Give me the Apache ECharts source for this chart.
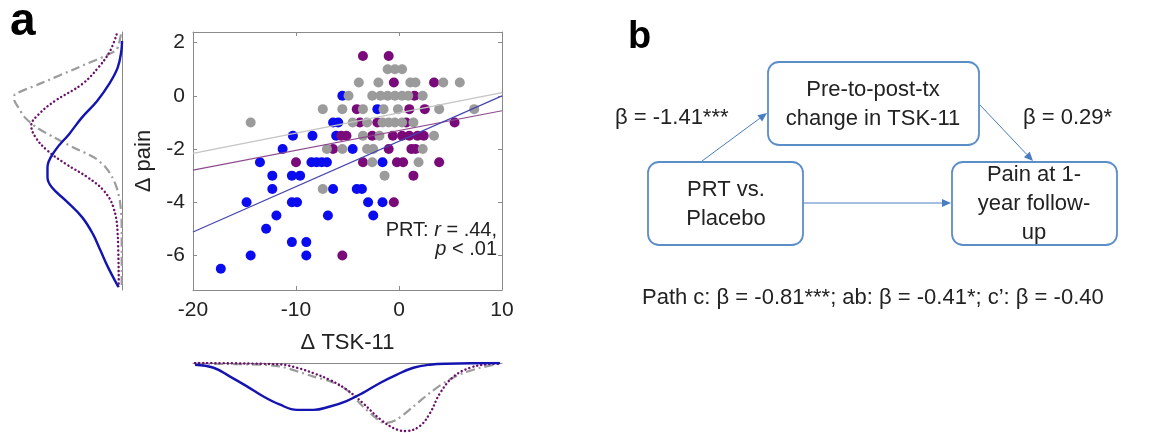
<!DOCTYPE html>
<html><head><meta charset="utf-8">
<script src="https://cdn.jsdelivr.net/npm/echarts@6/dist/echarts.min.js"></script>
<style>html,body{margin:0;padding:0;background:#fff}#c{width:1154px;height:433px}</style>
</head><body><div id="c"></div>
<script>
// ---------- data ----------
const xTicks = [-20, -10, 0, 10];
const yTicks = [-6, -4, -2, 0, 2];

// PRT (blue) points [ΔTSK-11, Δpain]
const prtPts = [
  [-5.5,0],[-2.1,-0.5],[-6.4,-1],[-5.9,-1],[-10.3,-1.5],[-8.4,-1.5],[-6.1,-1.5],
  [-11.3,-2],[-4.5,-2],[-13.5,-2.5],[-8.5,-2.5],[-8.0,-2.5],[-7.5,-2.5],[-7.0,-2.5],[-1.6,-2.5],
  [-12.3,-3],[-10.4,-3],[-9.6,-3],[-12.3,-3.5],[-6.4,-3.5],[-4.1,-3.5],[-3.6,-3.5],
  [-14.8,-4],[-10.4,-4],[-9.9,-4],[-3.0,-4],[-1.6,-4],[-11.9,-4.5],[-6.9,-4.5],[-2.5,-4.5],
  [-12.9,-5],[-10.4,-5.5],[-9.0,-5.5],[-14.4,-6],[-9.0,-6],[-17.3,-6.5]
];
// Placebo (purple) points
const placeboPts = [
  [-3.5,1.5],[-1.0,1.5],[-0.5,0.5],[3.4,0.5],[1.5,0],
  [-4.1,-0.5],[1.0,-0.5],[2.5,-0.5],[-3.8,-1],[-2.1,-1],[0.7,-1],[5.4,-1],
  [-5.6,-1.5],[-5.1,-1.5],[-2.6,-1.5],[-0.6,-1.5],[0.3,-1.5],[1.0,-1.5],[1.8,-1.5],[2.4,-1.5],
  [-6.4,-2],[-1.0,-2],[1.2,-2],[1.6,-2],
  [-10.0,-2.5],[-3.5,-2.5],[-0.2,-2.5],[0.4,-2.5],[3.9,-2.5],
  [1.4,-3],[-0.5,-4],[-5.5,-6]
];
// Usual care (gray) points
const usualPts = [
  [-1.1,1],[-0.4,1],[0.3,1],
  [-3.9,0.5],[-2.0,0.5],[1.1,0.5],[1.6,0.5],[4.3,0.5],[5.9,0.5],
  [-4.9,0],[-2.6,0],[-1.8,0],[-1.1,0],[-0.4,0],[0.3,0],[0.9,0],[2.3,0],
  [-7.4,-0.5],[-5.5,-0.5],[-3.5,-0.5],[-1.5,-0.5],[-0.1,-0.5],[3.9,-0.5],[7.3,-0.5],
  [-14.4,-1],[-4.5,-1],[-3.1,-1],[-1.6,-1],[-1.0,-1],[-0.4,-1],[0.3,-1],[1.4,-1],
  [-3.5,-1.5],[-1.9,-1.5],[3.4,-1.5],
  [-7.0,-2],[-5.5,-2],[-3.1,-2],[-2.5,-2],[2.3,-2],
  [-2.6,-2.5],[1.9,-2.5],[-1.4,-3],[-7.4,-3.5]
];
// fitted regression line end points
const fitPRT = [[-20,-5.12],[10,0.0]];
const fitPlacebo = [[-20,-2.79],[10,-0.56]];
const fitUsual = [[-20,-2.16],[10,0.12]];

// marginal densities of Δpain [density, Δpain]
const painDensPRT = [[0,2.06],[0.006,1.69],[0.04,1.06],[0.12,0.44],[0.23,-0.19],[0.37,-0.81],[0.49,-1.44],[0.62,-2.06],[0.69,-2.69],[0.69,-3.06],[0.65,-3.44],[0.52,-3.94],[0.37,-4.56],[0.27,-5.19],[0.20,-5.81],[0.13,-6.44],[0.05,-7.06],[0.03,-7.19]];
const painDensPlacebo = [[0.05,2.31],[0.11,1.69],[0.22,1.06],[0.37,0.44],[0.62,-0.19],[0.77,-0.69],[0.84,-1.12],[0.80,-1.56],[0.69,-2.06],[0.52,-2.56],[0.32,-3.06],[0.17,-3.56],[0.08,-4.19],[0.04,-5.19],[0.03,-7.19]];
const painDensUsual = [[0.01,2.31],[0.03,1.94],[0.06,1.69],[0.41,1.06],[0.77,0.44],[0.99,0.06],[1.0,-0.12],[0.96,-0.44],[0.90,-0.81],[0.79,-1.19],[0.63,-1.56],[0.45,-1.94],[0.26,-2.31],[0.15,-2.69],[0.09,-3.06],[0.05,-3.44],[0.02,-3.94],[0.005,-4.56],[0.003,-5.2],[0.003,-7.2]];
// marginal densities of ΔTSK-11 [ΔTSK-11, density]
const tskDensPRT = [[-19.8,0.025],[-18.0,0.07],[-16.4,0.20],[-14.8,0.34],[-13.2,0.49],[-11.6,0.61],[-9.9,0.69],[-8.3,0.69],[-6.7,0.64],[-5.1,0.56],[-3.5,0.44],[-1.8,0.29],[-0.2,0.17],[1.4,0.07],[3.0,0.025],[4.6,0.01],[9.8,0.0]];
const tskDensPlacebo = [[-19.8,0.0],[-11.6,0.02],[-9.9,0.07],[-8.3,0.15],[-6.7,0.25],[-5.1,0.39],[-3.5,0.59],[-1.8,0.83],[-0.2,0.98],[0.7,1.0],[2.0,0.93],[3.0,0.74],[4.0,0.44],[5.3,0.20],[6.9,0.07],[8.5,0.02],[9.8,0.01]];
const tskDensUsual = [[-19.8,0.01],[-14.8,0.02],[-11.6,0.05],[-8.3,0.20],[-6.7,0.27],[-5.1,0.39],[-3.5,0.64],[-1.8,0.86],[-1.2,0.88],[-0.2,0.83],[1.4,0.64],[3.0,0.44],[4.6,0.27],[6.2,0.15],[7.9,0.07],[9.8,0.01]];

// ---------- styling ----------
const FONT = '"Liberation Sans", Arial, Helvetica, sans-serif';
const TXT = '#222';
const AX = '#8a8a8a';
const C_BLUE = '#0b0bf0', C_PURPLE = '#7a0a7a', C_GRAY = '#9b9b9b';
const Y_MIN = -7.3, Y_MAX = 2.4;

const chart = echarts.init(document.getElementById('c'));

function arrow(x1, y1, x2, y2, color) {
  const dx = x2 - x1, dy = y2 - y1, L = Math.hypot(dx, dy);
  const ux = dx / L, uy = dy / L, px = -uy, py = ux;
  const hl = 9, hw = 4;
  const bx = x2 - ux * hl, by = y2 - uy * hl;
  return [
    {type: 'line', shape: {x1, y1, x2: bx, y2: by}, style: {stroke: color, lineWidth: 1}},
    {type: 'polygon', shape: {points: [[x2, y2], [bx + px * hw, by + py * hw], [bx - px * hw, by - py * hw]]}, style: {fill: color}}
  ];
}
function box(x, y, w, h) {
  return {type: 'rect', shape: {x, y, width: w, height: h, r: 11}, style: {fill: '#fff', stroke: '#5b8ec6', lineWidth: 1.8}};
}
function txt(x, y, s, align, size) {
  return {type: 'text', x, y, style: {text: s, fill: TXT, font: (size || 22) + 'px ' + FONT, textAlign: align || 'center', textVerticalAlign: 'middle'}};
}
const AC = '#4a7cc2';

const graphics = [
  {type: 'text', x: 10, y: 22, style: {text: 'a', fill: '#000', font: 'bold 46px "Liberation Sans", Arial, sans-serif', textAlign: 'left', textVerticalAlign: 'middle'}},
  {type: 'text', x: 628, y: 38, style: {text: 'b', fill: '#000', font: 'bold 38px "Liberation Sans", Arial, sans-serif', textAlign: 'left', textVerticalAlign: 'middle'}},
  {type: 'text', x: 497, y: 230, style: {text: '{n|PRT: }{i|r}{n| = .44,}', textAlign: 'right', textVerticalAlign: 'middle',
     rich: {n: {font: '20px ' + FONT, fill: TXT}, i: {font: 'italic 20px ' + FONT, fill: TXT}}}},
  {type: 'text', x: 497, y: 249, style: {text: '{i|p}{n| < .01}', textAlign: 'right', textVerticalAlign: 'middle',
     rich: {n: {font: '20px ' + FONT, fill: TXT}, i: {font: 'italic 20px ' + FONT, fill: TXT}}}},
  ...arrow(702, 161, 767, 113, AC),
  ...arrow(980, 105, 1033, 161, AC),
  ...arrow(803, 203, 951, 203, AC),
  box(768, 62, 211, 83),
  box(648, 162, 155, 83),
  box(952, 162, 165, 83),
  txt(873, 90, 'Pre-to-post-tx'),
  txt(873, 119, 'change in TSK-11'),
  txt(726, 190, 'PRT vs.'),
  txt(726, 219, 'Placebo'),
  txt(1034, 175, 'Pain at 1-'),
  txt(1034, 204, 'year follow-'),
  txt(1034, 233, 'up'),
  txt(615, 118, 'β = -1.41***', 'left'),
  txt(1023, 118, 'β = 0.29*', 'left'),
  txt(642, 298, 'Path c: β = -0.81***; ab: β = -0.41*; c’: β = -0.40', 'left')
];

const noAxis = {show: false};
const option = {
  animation: false,
  backgroundColor: '#fff',
  textStyle: {fontFamily: FONT},
  grid: [
    {left: 193, top: 32, width: 309, height: 258},
    {left: 10, top: 32, width: 112, height: 258},
    {left: 193, top: 363, width: 309, height: 70}
  ],
  xAxis: [
    {type: 'value', gridIndex: 0, min: -20, max: 10, interval: 10, position: 'bottom',
     axisLine: {show: true, onZero: false, lineStyle: {color: AX}},
     axisTick: {show: true, inside: true, length: 4, lineStyle: {color: AX}},
     axisLabel: {color: TXT, fontSize: 21, fontFamily: FONT, margin: 10},
     splitLine: noAxis,
     name: 'Δ TSK-11', nameLocation: 'middle', nameGap: 42,
     nameTextStyle: {color: TXT, fontSize: 22, fontFamily: FONT}},
    {type: 'value', gridIndex: 0, min: -20, max: 10, interval: 10, position: 'top',
     axisLine: {show: true, onZero: false, lineStyle: {color: AX}},
     axisTick: {show: true, inside: true, length: 4, lineStyle: {color: AX}},
     axisLabel: noAxis, splitLine: noAxis},
    {type: 'value', gridIndex: 1, min: 0, max: 1.037, inverse: true,
     axisLine: noAxis, axisTick: noAxis, axisLabel: noAxis, splitLine: noAxis},
    {type: 'value', gridIndex: 2, min: -20, max: 10, position: 'top',
     axisLine: {show: true, onZero: false, lineStyle: {color: '#888'}},
     axisTick: noAxis, axisLabel: noAxis, splitLine: noAxis}
  ],
  yAxis: [
    {type: 'value', gridIndex: 0, min: Y_MIN, max: Y_MAX, position: 'left',
     axisLine: {show: true, onZero: false, lineStyle: {color: AX}},
     axisTick: {show: true, inside: true, length: 4, customValues: yTicks, lineStyle: {color: AX}},
     axisLabel: {color: TXT, fontSize: 21, fontFamily: FONT, margin: 8, customValues: yTicks},
     splitLine: noAxis,
     name: 'Δ pain', nameLocation: 'middle', nameGap: 38, nameRotate: 90,
     nameTextStyle: {color: TXT, fontSize: 22, fontFamily: FONT}},
    {type: 'value', gridIndex: 0, min: Y_MIN, max: Y_MAX, position: 'right',
     axisLine: {show: true, onZero: false, lineStyle: {color: AX}},
     axisTick: {show: true, inside: true, length: 4, customValues: yTicks, lineStyle: {color: AX}},
     axisLabel: noAxis, splitLine: noAxis},
    {type: 'value', gridIndex: 1, min: Y_MIN, max: Y_MAX, position: 'right',
     axisLine: {show: true, onZero: false, lineStyle: {color: '#888'}},
     axisTick: noAxis, axisLabel: noAxis, splitLine: noAxis},
    {type: 'value', gridIndex: 2, min: 0, max: 1.03, inverse: true,
     axisLine: noAxis, axisTick: noAxis, axisLabel: noAxis, splitLine: noAxis}
  ],
  series: [
    {type: 'scatter', name: 'PRT', xAxisIndex: 0, yAxisIndex: 0, data: prtPts, symbolSize: 10, itemStyle: {color: C_BLUE, opacity: 1}},
    {type: 'scatter', name: 'Placebo', xAxisIndex: 0, yAxisIndex: 0, data: placeboPts, symbolSize: 10, itemStyle: {color: C_PURPLE, opacity: 1}},
    {type: 'scatter', name: 'Usual care', xAxisIndex: 0, yAxisIndex: 0, data: usualPts, symbolSize: 10, itemStyle: {color: C_GRAY, opacity: 1}},
    {type: 'line', xAxisIndex: 0, yAxisIndex: 0, data: fitUsual, symbol: 'none', lineStyle: {color: '#c4c4c4', width: 1.2}},
    {type: 'line', xAxisIndex: 0, yAxisIndex: 0, data: fitPlacebo, symbol: 'none', lineStyle: {color: '#8d4a8d', width: 1.2}},
    {type: 'line', xAxisIndex: 0, yAxisIndex: 0, data: fitPRT, symbol: 'none', lineStyle: {color: '#4545b0', width: 1.2}},

    {type: 'line', xAxisIndex: 2, yAxisIndex: 2, data: painDensUsual, symbol: 'none', smooth: 0.25,
     lineStyle: {color: '#9c9c9c', width: 2.2, type: [9, 4, 2, 4]}},
    {type: 'line', xAxisIndex: 2, yAxisIndex: 2, data: painDensPlacebo, symbol: 'none', smooth: 0.4,
     lineStyle: {color: '#6a0f6a', width: 2.4, type: [0.1, 4], cap: 'round'}},
    {type: 'line', xAxisIndex: 2, yAxisIndex: 2, data: painDensPRT, symbol: 'none', smooth: 0.4,
     lineStyle: {color: '#1414b0', width: 2.4}},

    {type: 'line', xAxisIndex: 3, yAxisIndex: 3, data: tskDensUsual, symbol: 'none', smooth: 0.3,
     lineStyle: {color: '#9c9c9c', width: 2.2, type: [9, 4, 2, 4]}},
    {type: 'line', xAxisIndex: 3, yAxisIndex: 3, data: tskDensPlacebo, symbol: 'none', smooth: 0.4,
     lineStyle: {color: '#6a0f6a', width: 2.4, type: [0.1, 4], cap: 'round'}},
    {type: 'line', xAxisIndex: 3, yAxisIndex: 3, data: tskDensPRT, symbol: 'none', smooth: 0.4,
     lineStyle: {color: '#1414b0', width: 2.4}}
  ],
  graphic: graphics
};
chart.setOption(option);
</script>
</body></html>
